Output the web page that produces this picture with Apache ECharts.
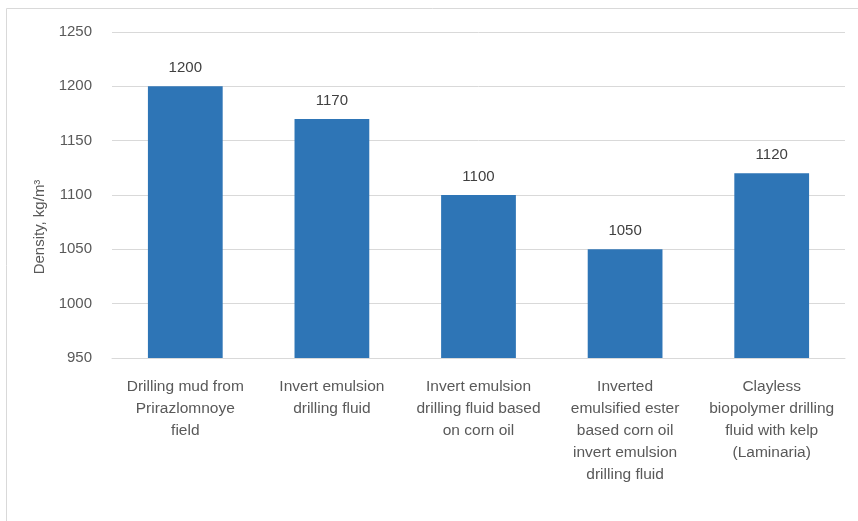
<!DOCTYPE html>
<html>
<head>
<meta charset="utf-8">
<script src="https://cdn.jsdelivr.net/npm/echarts@6/dist/echarts.min.js"></script>
<style>
  html, body { margin: 0; padding: 0; background: #fff; }
  #box { width: 858px; height: 521px; }
</style>
</head>
<body>
<div id="box"></div>
<script>
var categories = [
  'Drilling mud from\nPrirazlomnoye\nfield',
  'Invert emulsion\ndrilling fluid',
  'Invert emulsion\ndrilling fluid based\non corn oil',
  'Inverted\nemulsified ester\nbased corn oil\ninvert emulsion\ndrilling fluid',
  'Clayless\nbiopolymer drilling\nfluid with kelp\n(Laminaria)'
];
var densities = [1200, 1170, 1100, 1050, 1120];
var yTicks = { min: 950, max: 1250, step: 50 };

var dom = document.getElementById('box');
var myChart = echarts.init(dom);
var font = 'Liberation Sans';
var option = {
  animation: false,
  textStyle: { fontFamily: font },
  graphic: [{
    type: 'rect',
    shape: { x: 6.5, y: 8.5, width: 900, height: 600 },
    style: { fill: 'none', stroke: '#d9d9d9', lineWidth: 1 }
  }],
  grid: { left: 112, right: 13, top: 32, bottom: 163 },
  xAxis: {
    type: 'category',
    data: categories,
    axisLine: { lineStyle: { color: '#d9d9d9' } },
    axisTick: { show: false },
    axisLabel: {
      color: '#595959', fontSize: 15.5, lineHeight: 22, margin: 18,
      interval: 0, fontFamily: font
    }
  },
  yAxis: {
    type: 'value',
    min: yTicks.min, max: yTicks.max, interval: yTicks.step,
    name: 'Density, kg/m³',
    nameLocation: 'middle',
    nameGap: 61,
    nameTextStyle: { color: '#595959', fontSize: 15, fontFamily: font, padding: [0, 64, 0, 0] },
    axisLine: { show: false },
    axisTick: { show: false },
    axisLabel: {
      color: '#595959', fontSize: 15, margin: 20, fontFamily: font,
      formatter: function (v) { return String(v); }
    },
    splitLine: { lineStyle: { color: '#d9d9d9' } }
  },
  series: [{
    type: 'bar',
    data: densities,
    barWidth: '51%',
    itemStyle: { color: '#2e75b6' },
    label: {
      show: true, position: 'top', distance: 11,
      color: '#404040', fontSize: 15, fontFamily: font
    }
  }]
};
myChart.setOption(option);
</script>
</body>
</html>
